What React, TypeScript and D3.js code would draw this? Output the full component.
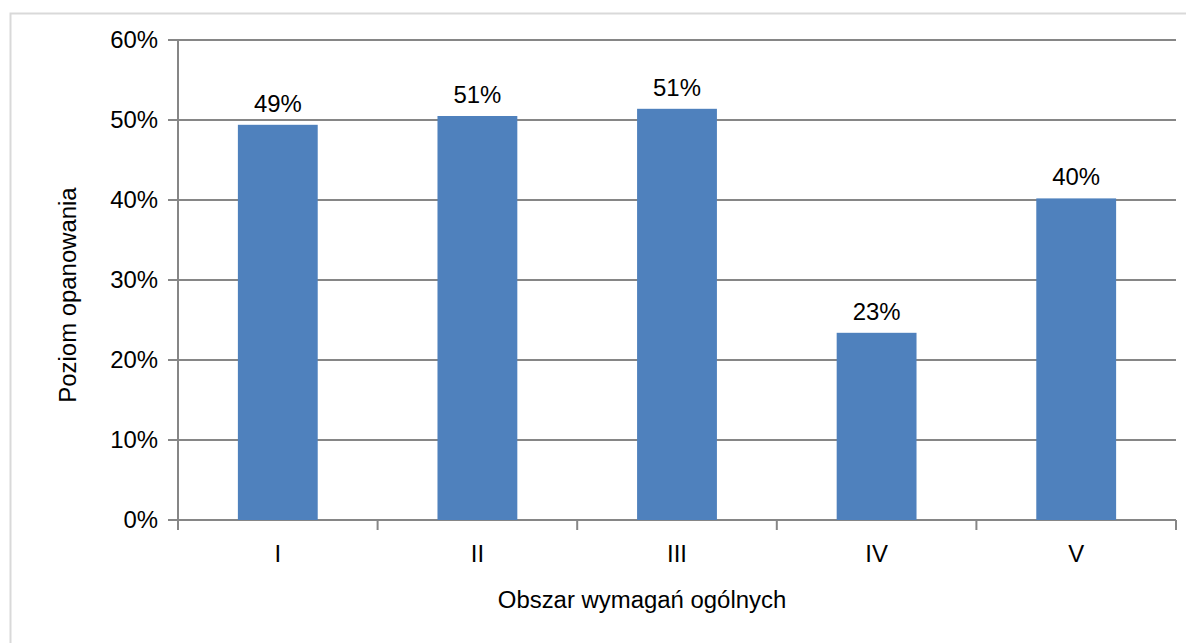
import React from 'react';
import * as d3 from 'd3';

// Chart data
const categories = ['I', 'II', 'III', 'IV', 'V'];
const values = [0.494, 0.505, 0.514, 0.234, 0.402];
const valueLabels = ['49%', '51%', '51%', '23%', '40%'];
const yTicks = [0, 0.1, 0.2, 0.3, 0.4, 0.5, 0.6];

const width = 1186;
const height = 643;
const margin = { left: 178, right: 10, top: 40, bottom: 123 };

const FONT = '"Liberation Sans", Arial, sans-serif';
const GRID = '#868686';

// text stretched a little horizontally, like the source rendering
const Label = ({ x, y, anchor = 'middle', rotate = 0, dy, children }: any) => (
  <text
    transform={`translate(${x},${y}) rotate(${rotate}) scale(1.04,1)`}
    textAnchor={anchor}
    dy={dy}
    style={{ fontFamily: FONT, fontSize: 23, fill: '#000' }}
  >
    {children}
  </text>
);

export default function App() {
  const x = d3
    .scaleBand<string>()
    .domain(categories)
    .range([margin.left, width - margin.right])
    .paddingInner(0.6)
    .paddingOuter(0.3);

  const y = d3
    .scaleLinear()
    .domain([0, 0.6])
    .range([height - margin.bottom, margin.top]);

  const step = x.step();
  const x0 = margin.left;
  const x1 = width - margin.right;
  const y0 = y(0);
  const fmt = d3.format('.0%');

  return (
    <div style={{ position: 'absolute', left: 0, top: 0 }}>
      <svg width={width} height={height} style={{ display: 'block', background: '#fff' }}>
        {/* outer chart border */}
        <rect x={10.5} y={13.5} width={width} height={height} fill="none" stroke="#d9d9d9" strokeWidth={2} />

        {/* gridlines + y ticks */}
        {yTicks.map((t) => (
          <g key={t}>
            <line x1={x0 - 10} x2={x1} y1={y(t)} y2={y(t)} stroke={GRID} strokeWidth={2} />
            <Label x={x0 - 20} y={y(t)} anchor="end" dy="0.36em">
              {fmt(t)}
            </Label>
          </g>
        ))}

        {/* y axis line */}
        <line x1={x0} x2={x0} y1={y(0.6)} y2={y0 + 10} stroke={GRID} strokeWidth={2} />

        {/* x ticks between categories */}
        {categories.map((c, i) => (
          <line
            key={'t' + c}
            x1={x0 + step * (i + 1)}
            x2={x0 + step * (i + 1)}
            y1={y0}
            y2={y0 + 10}
            stroke={GRID}
            strokeWidth={2}
          />
        ))}

        {/* bars */}
        {categories.map((c, i) => (
          <rect
            key={c}
            x={x(c)}
            y={y(values[i])}
            width={x.bandwidth()}
            height={y0 - y(values[i])}
            fill="#4f81bd"
          />
        ))}

        {/* value labels */}
        {categories.map((c, i) => (
          <Label key={'v' + c} x={(x(c) as number) + x.bandwidth() / 2} y={y(values[i]) - 13}>
            {valueLabels[i]}
          </Label>
        ))}

        {/* category labels */}
        {categories.map((c) => (
          <Label key={'c' + c} x={(x(c) as number) + x.bandwidth() / 2} y={y0 + 42}>
            {c}
          </Label>
        ))}

        {/* axis titles */}
        <Label x={(x0 + x1) / 2 - 35} y={608}>
          Obszar wymagań ogólnych
        </Label>
        <Label x={76} y={295} rotate={-90}>
          Poziom opanowania
        </Label>
      </svg>
    </div>
  );
}
